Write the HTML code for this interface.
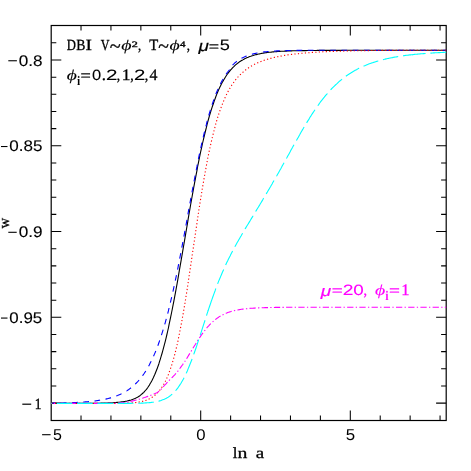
<!DOCTYPE html>
<html><head><meta charset="utf-8"><title>plot</title>
<style>html,body{margin:0;padding:0;background:#fff}svg{display:block;will-change:transform}</style></head>
<body><svg text-rendering="geometricPrecision" width="471" height="471" viewBox="0 0 471 471">
<rect x="0" y="0" width="471" height="471" fill="#fff"/>
<g stroke="#000" stroke-width="1.20" fill="none" stroke-linecap="square">
<rect x="51.20" y="25.50" width="395.00" height="395.00"/>
</g>
<g stroke="#000" stroke-width="1.05" fill="none">
<path d="M81.02,420.50v-5.10 M81.02,25.50v5.10"/>
<path d="M110.94,420.50v-5.10 M110.94,25.50v5.10"/>
<path d="M140.86,420.50v-5.10 M140.86,25.50v5.10"/>
<path d="M170.78,420.50v-5.10 M170.78,25.50v5.10"/>
<path d="M200.70,420.50v-10.10 M200.70,25.50v10.10"/>
<path d="M230.62,420.50v-5.10 M230.62,25.50v5.10"/>
<path d="M260.54,420.50v-5.10 M260.54,25.50v5.10"/>
<path d="M290.46,420.50v-5.10 M290.46,25.50v5.10"/>
<path d="M320.38,420.50v-5.10 M320.38,25.50v5.10"/>
<path d="M350.30,420.50v-10.10 M350.30,25.50v10.10"/>
<path d="M380.22,420.50v-5.10 M380.22,25.50v5.10"/>
<path d="M410.14,420.50v-5.10 M410.14,25.50v5.10"/>
<path d="M440.06,420.50v-5.10 M440.06,25.50v5.10"/>
<path d="M51.20,403.10h10.10 M446.20,403.10h-10.10"/>
<path d="M51.20,385.94h5.10 M446.20,385.94h-5.10"/>
<path d="M51.20,368.79h5.10 M446.20,368.79h-5.10"/>
<path d="M51.20,351.63h5.10 M446.20,351.63h-5.10"/>
<path d="M51.20,334.48h5.10 M446.20,334.48h-5.10"/>
<path d="M51.20,317.32h10.10 M446.20,317.32h-10.10"/>
<path d="M51.20,300.17h5.10 M446.20,300.17h-5.10"/>
<path d="M51.20,283.01h5.10 M446.20,283.01h-5.10"/>
<path d="M51.20,265.86h5.10 M446.20,265.86h-5.10"/>
<path d="M51.20,248.70h5.10 M446.20,248.70h-5.10"/>
<path d="M51.20,231.55h10.10 M446.20,231.55h-10.10"/>
<path d="M51.20,214.39h5.10 M446.20,214.39h-5.10"/>
<path d="M51.20,197.24h5.10 M446.20,197.24h-5.10"/>
<path d="M51.20,180.08h5.10 M446.20,180.08h-5.10"/>
<path d="M51.20,162.93h5.10 M446.20,162.93h-5.10"/>
<path d="M51.20,145.77h10.10 M446.20,145.77h-10.10"/>
<path d="M51.20,128.62h5.10 M446.20,128.62h-5.10"/>
<path d="M51.20,111.46h5.10 M446.20,111.46h-5.10"/>
<path d="M51.20,94.31h5.10 M446.20,94.31h-5.10"/>
<path d="M51.20,77.16h5.10 M446.20,77.16h-5.10"/>
<path d="M51.20,60.00h10.10 M446.20,60.00h-10.10"/>
<path d="M51.20,42.84h5.10 M446.20,42.84h-5.10"/>
</g>
<g fill="none" stroke-width="1.10" stroke-linejoin="round">
<path d="M51.2,403.4 L52.0,403.4 L52.8,403.4 L53.6,403.4 L54.4,403.4 L55.2,403.4 L55.9,403.4 L56.7,403.4 L57.5,403.4 L58.3,403.4 L59.1,403.4 L59.9,403.4 L60.7,403.4 L61.5,403.4 L62.3,403.4 L63.1,403.4 L63.9,403.4 L64.7,403.4 L65.4,403.4 L66.2,403.4 L67.0,403.4 L67.8,403.4 L68.6,403.4 L69.4,403.4 L70.2,403.4 L71.0,403.4 L71.8,403.4 L72.6,403.4 L73.4,403.4 L74.2,403.4 L74.9,403.4 L75.7,403.4 L76.5,403.4 L77.3,403.4 L78.1,403.4 L78.9,403.4 L79.7,403.4 L80.5,403.4 L81.3,403.4 L82.1,403.4 L82.9,403.4 L83.7,403.4 L84.4,403.3 L85.2,403.3 L86.0,403.3 L86.8,403.3 L87.6,403.3 L88.4,403.3 L89.2,403.3 L90.0,403.3 L90.8,403.3 L91.6,403.3 L92.4,403.3 L93.2,403.3 L93.9,403.3 L94.7,403.2 L95.5,403.2 L96.3,403.2 L97.1,403.2 L97.9,403.2 L98.7,403.2 L99.5,403.2 L100.3,403.2 L101.1,403.1 L101.9,403.1 L102.7,403.1 L103.4,403.1 L104.2,403.1 L105.0,403.0 L105.8,403.0 L106.6,403.0 L107.4,403.0 L108.2,402.9 L109.0,402.9 L109.8,402.9 L110.6,402.8 L111.4,402.8 L112.2,402.7 L112.9,402.7 L113.7,402.7 L114.5,402.6 L115.3,402.5 L116.1,402.5 L116.9,402.4 L117.7,402.4 L118.5,402.3 L119.3,402.2 L120.1,402.1 L120.9,402.0 L121.7,401.9 L122.4,401.8 L123.2,401.7 L124.0,401.6 L124.8,401.5 L125.6,401.3 L126.4,401.2 L127.2,401.0 L128.0,400.8 L128.8,400.6 L129.6,400.4 L130.4,400.2 L131.1,400.0 L131.9,399.7 L132.7,399.4 L133.5,399.1 L134.3,398.8 L135.1,398.4 L135.9,398.1 L136.7,397.6 L137.5,397.2 L138.3,396.7 L139.1,396.2 L139.9,395.7 L140.6,395.1 L141.4,394.4 L142.2,393.8 L143.0,393.0 L143.8,392.3 L144.6,391.4 L145.4,390.5 L146.2,389.6 L147.0,388.6 L147.8,387.5 L148.6,386.3 L149.4,385.1 L150.1,383.8 L150.9,382.4 L151.7,381.0 L152.5,379.4 L153.3,377.8 L154.1,376.1 L154.9,374.3 L155.7,372.3 L156.5,370.3 L157.3,368.2 L158.1,366.0 L158.9,363.7 L159.6,361.3 L160.4,358.8 L161.2,356.2 L162.0,353.5 L162.8,350.7 L163.6,347.7 L164.4,344.7 L165.2,341.6 L166.0,338.3 L166.8,335.0 L167.6,331.5 L168.4,328.0 L169.1,324.4 L169.9,320.7 L170.7,316.9 L171.5,313.0 L172.3,309.0 L173.1,304.9 L173.9,300.8 L174.7,296.6 L175.5,292.4 L176.3,288.0 L177.1,283.7 L177.9,279.2 L178.6,274.8 L179.4,270.2 L180.2,265.7 L181.0,261.1 L181.8,256.5 L182.6,251.8 L183.4,247.2 L184.2,242.5 L185.0,237.9 L185.8,233.2 L186.6,228.5 L187.4,223.9 L188.1,219.3 L188.9,214.7 L189.7,210.1 L190.5,205.5 L191.3,201.0 L192.1,196.5 L192.9,192.1 L193.7,187.7 L194.5,183.4 L195.3,179.1 L196.1,174.9 L196.9,170.8 L197.6,166.7 L198.4,162.8 L199.2,158.8 L200.0,155.0 L200.8,151.2 L201.6,147.6 L202.4,144.0 L203.2,140.5 L204.0,137.1 L204.8,133.8 L205.6,130.5 L206.4,127.4 L207.1,124.3 L207.9,121.4 L208.7,118.5 L209.5,115.7 L210.3,113.0 L211.1,110.4 L211.9,107.9 L212.7,105.5 L213.5,103.2 L214.3,100.9 L215.1,98.7 L215.8,96.7 L216.6,94.6 L217.4,92.7 L218.2,90.8 L219.0,89.1 L219.8,87.3 L220.6,85.7 L221.4,84.1 L222.2,82.6 L223.0,81.2 L223.8,79.8 L224.6,78.4 L225.3,77.2 L226.1,76.0 L226.9,74.8 L227.7,73.7 L228.5,72.6 L229.3,71.6 L230.1,70.6 L230.9,69.7 L231.7,68.8 L232.5,67.9 L233.3,67.1 L234.1,66.4 L234.8,65.6 L235.6,64.9 L236.4,64.2 L237.2,63.6 L238.0,63.0 L238.8,62.4 L239.6,61.8 L240.4,61.3 L241.2,60.8 L242.0,60.3 L242.8,59.9 L243.6,59.4 L244.3,59.0 L245.1,58.6 L245.9,58.2 L246.7,57.8 L247.5,57.5 L248.3,57.2 L249.1,56.8 L249.9,56.5 L250.7,56.3 L251.5,56.0 L252.3,55.7 L253.1,55.5 L253.8,55.2 L254.6,55.0 L255.4,54.8 L256.2,54.6 L257.0,54.4 L257.8,54.2 L258.6,54.0 L259.4,53.9 L260.2,53.7 L261.0,53.5 L261.8,53.4 L262.6,53.3 L263.3,53.1 L264.1,53.0 L264.9,52.9 L265.7,52.8 L266.5,52.6 L267.3,52.5 L268.1,52.4 L268.9,52.3 L269.7,52.3 L270.5,52.2 L271.3,52.1 L272.1,52.0 L272.8,51.9 L273.6,51.9 L274.4,51.8 L275.2,51.7 L276.0,51.7 L276.8,51.6 L277.6,51.5 L278.4,51.5 L279.2,51.4 L280.0,51.4 L280.8,51.3 L281.6,51.3 L282.3,51.2 L283.1,51.2 L283.9,51.2 L284.7,51.1 L285.5,51.1 L286.3,51.1 L287.1,51.0 L287.9,51.0 L288.7,51.0 L289.5,50.9 L290.3,50.9 L291.0,50.9 L291.8,50.9 L292.6,50.8 L293.4,50.8 L294.2,50.8 L295.0,50.8 L295.8,50.7 L296.6,50.7 L297.4,50.7 L298.2,50.7 L299.0,50.7 L299.8,50.7 L300.5,50.6 L301.3,50.6 L302.1,50.6 L302.9,50.6 L303.7,50.6 L304.5,50.6 L305.3,50.6 L306.1,50.6 L306.9,50.5 L307.7,50.5 L308.5,50.5 L309.3,50.5 L310.0,50.5 L310.8,50.5 L311.6,50.5 L312.4,50.5 L313.2,50.5 L314.0,50.5 L314.8,50.5 L315.6,50.5 L316.4,50.5 L317.2,50.4 L318.0,50.4 L318.8,50.4 L319.5,50.4 L320.3,50.4 L321.1,50.4 L321.9,50.4 L322.7,50.4 L323.5,50.4 L324.3,50.4 L325.1,50.4 L325.9,50.4 L326.7,50.4 L327.5,50.4 L328.3,50.4 L329.0,50.4 L329.8,50.4 L330.6,50.4 L331.4,50.4 L332.2,50.4 L333.0,50.4 L333.8,50.4 L334.6,50.4 L335.4,50.4 L336.2,50.4 L337.0,50.4 L337.8,50.4 L338.5,50.4 L339.3,50.4 L340.1,50.4 L340.9,50.4 L341.7,50.4 L342.5,50.4 L343.3,50.3 L344.1,50.3 L344.9,50.3 L345.7,50.3 L346.5,50.3 L347.3,50.3 L348.0,50.3 L348.8,50.3 L349.6,50.3 L350.4,50.3 L351.2,50.3 L352.0,50.3 L352.8,50.3 L353.6,50.3 L354.4,50.3 L355.2,50.3 L356.0,50.3 L356.8,50.3 L357.5,50.3 L358.3,50.3 L359.1,50.3 L359.9,50.3 L360.7,50.3 L361.5,50.3 L362.3,50.3 L363.1,50.3 L363.9,50.3 L364.7,50.3 L365.5,50.3 L366.3,50.3 L367.0,50.3 L367.8,50.3 L368.6,50.3 L369.4,50.3 L370.2,50.3 L371.0,50.3 L371.8,50.3 L372.6,50.3 L373.4,50.3 L374.2,50.3 L375.0,50.3 L375.7,50.3 L376.5,50.3 L377.3,50.3 L378.1,50.3 L378.9,50.3 L379.7,50.3 L380.5,50.3 L381.3,50.3 L382.1,50.3 L382.9,50.3 L383.7,50.3 L384.5,50.3 L385.2,50.3 L386.0,50.3 L386.8,50.3 L387.6,50.3 L388.4,50.3 L389.2,50.3 L390.0,50.3 L390.8,50.3 L391.6,50.3 L392.4,50.3 L393.2,50.3 L394.0,50.3 L394.7,50.3 L395.5,50.3 L396.3,50.3 L397.1,50.3 L397.9,50.3 L398.7,50.3 L399.5,50.3 L400.3,50.3 L401.1,50.3 L401.9,50.3 L402.7,50.3 L403.5,50.3 L404.2,50.3 L405.0,50.3 L405.8,50.3 L406.6,50.3 L407.4,50.3 L408.2,50.3 L409.0,50.3 L409.8,50.3 L410.6,50.3 L411.4,50.3 L412.2,50.3 L413.0,50.3 L413.7,50.3 L414.5,50.3 L415.3,50.3 L416.1,50.3 L416.9,50.3 L417.7,50.3 L418.5,50.3 L419.3,50.3 L420.1,50.3 L420.9,50.3 L421.7,50.3 L422.5,50.3 L423.2,50.3 L424.0,50.3 L424.8,50.3 L425.6,50.3 L426.4,50.3 L427.2,50.3 L428.0,50.3 L428.8,50.3 L429.6,50.3 L430.4,50.3 L431.2,50.3 L432.0,50.3 L432.7,50.3 L433.5,50.3 L434.3,50.3 L435.1,50.3 L435.9,50.3 L436.7,50.3 L437.5,50.3 L438.3,50.3 L439.1,50.3 L439.9,50.3 L440.7,50.3 L441.5,50.3 L442.2,50.3 L443.0,50.3 L443.8,50.3 L444.6,50.3 L445.4,50.3 L446.2,50.3" stroke="#000"/>
<path d="M51.2,403.2 L52.0,403.2 L52.8,403.2 L53.6,403.1 L54.4,403.1 L55.2,403.1 L55.9,403.1 L56.7,403.1 L57.5,403.1 L58.3,403.1 L59.1,403.0 L59.9,403.0 L60.7,403.0 L61.5,403.0 L62.3,403.0 L63.1,403.0 L63.9,402.9 L64.7,402.9 L65.4,402.9 L66.2,402.9 L67.0,402.8 L67.8,402.8 L68.6,402.8 L69.4,402.8 L70.2,402.7 L71.0,402.7 L71.8,402.7 L72.6,402.6 L73.4,402.6 L74.2,402.6 L74.9,402.5 L75.7,402.5 L76.5,402.5 L77.3,402.4 L78.1,402.4 L78.9,402.3 L79.7,402.3 L80.5,402.2 L81.3,402.2 L82.1,402.1 L82.9,402.1 L83.7,402.0 L84.4,402.0 L85.2,401.9 L86.0,401.8 L86.8,401.8 L87.6,401.7 L88.4,401.6 L89.2,401.6 L90.0,401.5 L90.8,401.4 L91.6,401.3 L92.4,401.2 L93.2,401.1 L93.9,401.1 L94.7,401.0 L95.5,400.9 L96.3,400.7 L97.1,400.6 L97.9,400.5 L98.7,400.4 L99.5,400.3 L100.3,400.1 L101.1,400.0 L101.9,399.9 L102.7,399.7 L103.4,399.6 L104.2,399.4 L105.0,399.2 L105.8,399.1 L106.6,398.9 L107.4,398.7 L108.2,398.5 L109.0,398.3 L109.8,398.1 L110.6,397.9 L111.4,397.7 L112.2,397.4 L112.9,397.2 L113.7,396.9 L114.5,396.6 L115.3,396.4 L116.1,396.1 L116.9,395.8 L117.7,395.5 L118.5,395.1 L119.3,394.8 L120.1,394.4 L120.9,394.1 L121.7,393.7 L122.4,393.3 L123.2,392.9 L124.0,392.5 L124.8,392.0 L125.6,391.5 L126.4,391.1 L127.2,390.6 L128.0,390.0 L128.8,389.5 L129.6,388.9 L130.4,388.3 L131.1,387.7 L131.9,387.1 L132.7,386.4 L133.5,385.7 L134.3,385.0 L135.1,384.3 L135.9,383.5 L136.7,382.7 L137.5,381.9 L138.3,381.0 L139.1,380.1 L139.9,379.2 L140.6,378.2 L141.4,377.2 L142.2,376.2 L143.0,375.1 L143.8,374.0 L144.6,372.8 L145.4,371.6 L146.2,370.3 L147.0,369.0 L147.8,367.7 L148.6,366.3 L149.4,364.8 L150.1,363.3 L150.9,361.7 L151.7,360.1 L152.5,358.5 L153.3,356.7 L154.1,354.9 L154.9,353.1 L155.7,351.2 L156.5,349.2 L157.3,347.1 L158.1,345.0 L158.9,342.8 L159.6,340.6 L160.4,338.3 L161.2,335.9 L162.0,333.4 L162.8,330.8 L163.6,328.2 L164.4,325.5 L165.2,322.8 L166.0,319.9 L166.8,317.0 L167.6,314.0 L168.4,310.9 L169.1,307.7 L169.9,304.5 L170.7,301.2 L171.5,297.8 L172.3,294.3 L173.1,290.8 L173.9,287.2 L174.7,283.5 L175.5,279.7 L176.3,275.9 L177.1,272.0 L177.9,268.1 L178.6,264.1 L179.4,260.1 L180.2,256.0 L181.0,251.8 L181.8,247.6 L182.6,243.4 L183.4,239.2 L184.2,234.9 L185.0,230.6 L185.8,226.2 L186.6,221.9 L187.4,217.6 L188.1,213.2 L188.9,208.9 L189.7,204.5 L190.5,200.2 L191.3,195.9 L192.1,191.6 L192.9,187.4 L193.7,183.2 L194.5,179.0 L195.3,174.9 L196.1,170.9 L196.9,166.9 L197.6,162.9 L198.4,159.0 L199.2,155.2 L200.0,151.5 L200.8,147.8 L201.6,144.2 L202.4,140.7 L203.2,137.3 L204.0,133.9 L204.8,130.7 L205.6,127.5 L206.4,124.4 L207.1,121.4 L207.9,118.5 L208.7,115.7 L209.5,112.9 L210.3,110.3 L211.1,107.7 L211.9,105.3 L212.7,102.9 L213.5,100.6 L214.3,98.4 L215.1,96.3 L215.8,94.2 L216.6,92.3 L217.4,90.4 L218.2,88.6 L219.0,86.8 L219.8,85.2 L220.6,83.6 L221.4,82.0 L222.2,80.6 L223.0,79.2 L223.8,77.8 L224.6,76.5 L225.3,75.3 L226.1,74.2 L226.9,73.0 L227.7,72.0 L228.5,71.0 L229.3,70.0 L230.1,69.0 L230.9,68.0 L231.7,66.6 L232.5,65.2 L233.3,64.3 L234.1,63.6 L234.8,62.9 L235.6,62.3 L236.4,61.6 L237.2,61.1 L238.0,60.5 L238.8,60.0 L239.6,59.5 L240.4,59.0 L241.2,58.5 L242.0,58.1 L242.8,57.7 L243.6,57.3 L244.3,56.9 L245.1,56.6 L245.9,56.2 L246.7,55.9 L247.5,55.6 L248.3,55.3 L249.1,55.1 L249.9,54.8 L250.7,54.6 L251.5,54.3 L252.3,54.1 L253.1,53.9 L253.8,53.7 L254.6,53.5 L255.4,53.4 L256.2,53.2 L257.0,53.0 L257.8,52.9 L258.6,52.7 L259.4,52.6 L260.2,52.5 L261.0,52.4 L261.8,52.3 L262.6,52.1 L263.3,52.0 L264.1,51.9 L264.9,51.9 L265.7,51.8 L266.5,51.7 L267.3,51.6 L268.1,51.5 L268.9,51.5 L269.7,51.4 L270.5,51.3 L271.3,51.3 L272.1,51.2 L272.8,51.2 L273.6,51.1 L274.4,51.1 L275.2,51.0 L276.0,51.0 L276.8,50.9 L277.6,50.9 L278.4,50.9 L279.2,50.8 L280.0,50.8 L280.8,50.8 L281.6,50.7 L282.3,50.7 L283.1,50.7 L283.9,50.7 L284.7,50.6 L285.5,50.6 L286.3,50.6 L287.1,50.6 L287.9,50.6 L288.7,50.5 L289.5,50.5 L290.3,50.5 L291.0,50.5 L291.8,50.5 L292.6,50.5 L293.4,50.4 L294.2,50.4 L295.0,50.4 L295.8,50.4 L296.6,50.4 L297.4,50.4 L298.2,50.4 L299.0,50.4 L299.8,50.4 L300.5,50.4 L301.3,50.3 L302.1,50.3 L302.9,50.3 L303.7,50.3 L304.5,50.3 L305.3,50.3 L306.1,50.3 L306.9,50.3 L307.7,50.3 L308.5,50.3 L309.3,50.3 L310.0,50.3 L310.8,50.3 L311.6,50.3 L312.4,50.3 L313.2,50.3 L314.0,50.3 L314.8,50.3 L315.6,50.3 L316.4,50.3 L317.2,50.3 L318.0,50.3 L318.8,50.3 L319.5,50.3 L320.3,50.3 L321.1,50.3 L321.9,50.2 L322.7,50.2 L323.5,50.2 L324.3,50.2 L325.1,50.2 L325.9,50.2 L326.7,50.2 L327.5,50.2 L328.3,50.2 L329.0,50.2 L329.8,50.2 L330.6,50.2 L331.4,50.2 L332.2,50.2 L333.0,50.2 L333.8,50.2 L334.6,50.2 L335.4,50.2 L336.2,50.2 L337.0,50.2 L337.8,50.2 L338.5,50.2 L339.3,50.2 L340.1,50.2 L340.9,50.2 L341.7,50.2 L342.5,50.2 L343.3,50.2 L344.1,50.2 L344.9,50.2 L345.7,50.2 L346.5,50.2 L347.3,50.2 L348.0,50.2 L348.8,50.2 L349.6,50.2 L350.4,50.2 L351.2,50.2 L352.0,50.2 L352.8,50.2 L353.6,50.2 L354.4,50.2 L355.2,50.2 L356.0,50.2 L356.8,50.2 L357.5,50.2 L358.3,50.2 L359.1,50.2 L359.9,50.2 L360.7,50.2 L361.5,50.2 L362.3,50.2 L363.1,50.2 L363.9,50.2 L364.7,50.2 L365.5,50.2 L366.3,50.2 L367.0,50.2 L367.8,50.2 L368.6,50.2 L369.4,50.2 L370.2,50.2 L371.0,50.2 L371.8,50.2 L372.6,50.2 L373.4,50.2 L374.2,50.2 L375.0,50.2 L375.7,50.2 L376.5,50.2 L377.3,50.2 L378.1,50.2 L378.9,50.2 L379.7,50.2 L380.5,50.2 L381.3,50.2 L382.1,50.2 L382.9,50.2 L383.7,50.2 L384.5,50.2 L385.2,50.2 L386.0,50.2 L386.8,50.2 L387.6,50.2 L388.4,50.2 L389.2,50.2 L390.0,50.2 L390.8,50.2 L391.6,50.2 L392.4,50.2 L393.2,50.2 L394.0,50.2 L394.7,50.2 L395.5,50.2 L396.3,50.2 L397.1,50.2 L397.9,50.2 L398.7,50.2 L399.5,50.2 L400.3,50.2 L401.1,50.2 L401.9,50.2 L402.7,50.2 L403.5,50.2 L404.2,50.2 L405.0,50.2 L405.8,50.2 L406.6,50.2 L407.4,50.2 L408.2,50.2 L409.0,50.2 L409.8,50.2 L410.6,50.2 L411.4,50.2 L412.2,50.2 L413.0,50.2 L413.7,50.2 L414.5,50.2 L415.3,50.2 L416.1,50.2 L416.9,50.2 L417.7,50.2 L418.5,50.2 L419.3,50.2 L420.1,50.2 L420.9,50.2 L421.7,50.2 L422.5,50.2 L423.2,50.2 L424.0,50.2 L424.8,50.2 L425.6,50.2 L426.4,50.2 L427.2,50.2 L428.0,50.2 L428.8,50.2 L429.6,50.2 L430.4,50.2 L431.2,50.2 L432.0,50.2 L432.7,50.2 L433.5,50.2 L434.3,50.2 L435.1,50.2 L435.9,50.2 L436.7,50.2 L437.5,50.2 L438.3,50.2 L439.1,50.2 L439.9,50.2 L440.7,50.2 L441.5,50.2 L442.2,50.2 L443.0,50.2 L443.8,50.2 L444.6,50.2 L445.4,50.2 L446.2,50.2" stroke="#00f" stroke-dasharray="5.7 5.54" stroke-dashoffset="1.57"/>
<path d="M51.2,403.4 L52.0,403.4 L52.8,403.4 L53.6,403.4 L54.4,403.4 L55.2,403.4 L55.9,403.4 L56.7,403.4 L57.5,403.4 L58.3,403.4 L59.1,403.4 L59.9,403.4 L60.7,403.4 L61.5,403.4 L62.3,403.4 L63.1,403.4 L63.9,403.4 L64.7,403.4 L65.4,403.4 L66.2,403.4 L67.0,403.4 L67.8,403.4 L68.6,403.4 L69.4,403.4 L70.2,403.4 L71.0,403.4 L71.8,403.4 L72.6,403.4 L73.4,403.4 L74.2,403.4 L74.9,403.4 L75.7,403.4 L76.5,403.4 L77.3,403.4 L78.1,403.4 L78.9,403.4 L79.7,403.4 L80.5,403.4 L81.3,403.4 L82.1,403.4 L82.9,403.4 L83.7,403.4 L84.4,403.4 L85.2,403.4 L86.0,403.4 L86.8,403.4 L87.6,403.4 L88.4,403.4 L89.2,403.4 L90.0,403.4 L90.8,403.4 L91.6,403.4 L92.4,403.4 L93.2,403.4 L93.9,403.4 L94.7,403.4 L95.5,403.4 L96.3,403.4 L97.1,403.4 L97.9,403.4 L98.7,403.4 L99.5,403.4 L100.3,403.4 L101.1,403.4 L101.9,403.4 L102.7,403.4 L103.4,403.4 L104.2,403.4 L105.0,403.4 L105.8,403.4 L106.6,403.4 L107.4,403.4 L108.2,403.4 L109.0,403.4 L109.8,403.4 L110.6,403.4 L111.4,403.4 L112.2,403.4 L112.9,403.4 L113.7,403.4 L114.5,403.4 L115.3,403.4 L116.1,403.4 L116.9,403.4 L117.7,403.4 L118.5,403.4 L119.3,403.4 L120.1,403.4 L120.9,403.3 L121.7,403.3 L122.4,403.3 L123.2,403.3 L124.0,403.3 L124.8,403.2 L125.6,403.2 L126.4,403.2 L127.2,403.2 L128.0,403.1 L128.8,403.1 L129.6,403.0 L130.4,403.0 L131.1,402.9 L131.9,402.9 L132.7,402.8 L133.5,402.7 L134.3,402.7 L135.1,402.6 L135.9,402.5 L136.7,402.4 L137.5,402.3 L138.3,402.2 L139.1,402.0 L139.9,401.9 L140.6,401.7 L141.4,401.5 L142.2,401.4 L143.0,401.2 L143.8,400.9 L144.6,400.7 L145.4,400.5 L146.2,400.2 L147.0,399.9 L147.8,399.5 L148.6,399.2 L149.4,398.8 L150.1,398.4 L150.9,398.0 L151.7,397.5 L152.5,397.0 L153.3,396.5 L154.1,395.9 L154.9,395.2 L155.7,394.6 L156.5,393.9 L157.3,393.1 L158.1,392.2 L158.9,391.4 L159.6,390.4 L160.4,389.4 L161.2,388.3 L162.0,387.1 L162.8,385.9 L163.6,384.6 L164.4,383.1 L165.2,381.6 L166.0,380.0 L166.8,378.3 L167.6,376.5 L168.4,374.6 L169.1,372.5 L169.9,370.4 L170.7,368.1 L171.5,365.7 L172.3,363.1 L173.1,360.4 L173.9,357.6 L174.7,354.6 L175.5,351.5 L176.3,348.2 L177.1,344.8 L177.9,341.3 L178.6,337.6 L179.4,333.7 L180.2,329.7 L181.0,325.5 L181.8,321.3 L182.6,316.8 L183.4,312.3 L184.2,307.6 L185.0,302.8 L185.8,297.9 L186.6,292.9 L187.4,287.9 L188.1,282.7 L188.9,277.5 L189.7,272.2 L190.5,266.8 L191.3,261.4 L192.1,256.0 L192.9,250.6 L193.7,245.2 L194.5,239.7 L195.3,234.3 L196.1,229.0 L196.9,223.6 L197.6,218.4 L198.4,213.1 L199.2,208.0 L200.0,202.9 L200.8,197.9 L201.6,193.0 L202.4,188.2 L203.2,183.5 L204.0,178.9 L204.8,174.4 L205.6,170.0 L206.4,165.7 L207.1,161.6 L207.9,157.5 L208.7,153.6 L209.5,149.8 L210.3,146.2 L211.1,142.6 L211.9,139.2 L212.7,135.9 L213.5,132.7 L214.3,129.6 L215.1,126.6 L215.8,123.8 L216.6,121.0 L217.4,118.4 L218.2,115.8 L219.0,113.4 L219.8,111.0 L220.6,108.8 L221.4,106.6 L222.2,104.5 L223.0,102.5 L223.8,100.6 L224.6,98.8 L225.3,97.0 L226.1,95.4 L226.9,93.7 L227.7,92.2 L228.5,90.7 L229.3,89.3 L230.1,87.9 L230.9,86.6 L231.7,85.3 L232.5,84.1 L233.3,83.0 L234.1,81.9 L234.8,80.8 L235.6,79.8 L236.4,78.8 L237.2,77.9 L238.0,77.0 L238.8,76.1 L239.6,75.3 L240.4,74.5 L241.2,73.7 L242.0,73.0 L242.8,72.3 L243.6,71.6 L244.3,70.9 L245.1,70.3 L245.9,69.7 L246.7,69.1 L247.5,68.5 L248.3,68.0 L249.1,67.5 L249.9,67.0 L250.7,66.5 L251.5,66.0 L252.3,65.6 L253.1,65.1 L253.8,64.7 L254.6,64.3 L255.4,63.9 L256.2,63.5 L257.0,63.2 L257.8,62.8 L258.6,62.5 L259.4,62.1 L260.2,61.8 L261.0,61.5 L261.8,61.2 L262.6,60.9 L263.3,60.6 L264.1,60.3 L264.9,60.1 L265.7,59.8 L266.5,59.6 L267.3,59.3 L268.1,59.1 L268.9,58.9 L269.7,58.6 L270.5,58.4 L271.3,58.2 L272.1,58.0 L272.8,57.8 L273.6,57.6 L274.4,57.4 L275.2,57.3 L276.0,57.1 L276.8,56.9 L277.6,56.7 L278.4,56.6 L279.2,56.4 L280.0,56.3 L280.8,56.1 L281.6,56.0 L282.3,55.8 L283.1,55.7 L283.9,55.6 L284.7,55.4 L285.5,55.3 L286.3,55.2 L287.1,55.1 L287.9,54.9 L288.7,54.8 L289.5,54.7 L290.3,54.6 L291.0,54.5 L291.8,54.4 L292.6,54.3 L293.4,54.2 L294.2,54.1 L295.0,54.0 L295.8,53.9 L296.6,53.8 L297.4,53.7 L298.2,53.7 L299.0,53.6 L299.8,53.5 L300.5,53.4 L301.3,53.3 L302.1,53.3 L302.9,53.2 L303.7,53.1 L304.5,53.0 L305.3,53.0 L306.1,52.9 L306.9,52.9 L307.7,52.8 L308.5,52.7 L309.3,52.7 L310.0,52.6 L310.8,52.6 L311.6,52.5 L312.4,52.4 L313.2,52.4 L314.0,52.3 L314.8,52.3 L315.6,52.2 L316.4,52.2 L317.2,52.1 L318.0,52.1 L318.8,52.0 L319.5,52.0 L320.3,52.0 L321.1,51.9 L321.9,51.9 L322.7,51.8 L323.5,51.8 L324.3,51.8 L325.1,51.7 L325.9,51.7 L326.7,51.6 L327.5,51.6 L328.3,51.6 L329.0,51.5 L329.8,51.5 L330.6,51.5 L331.4,51.5 L332.2,51.4 L333.0,51.4 L333.8,51.4 L334.6,51.3 L335.4,51.3 L336.2,51.3 L337.0,51.3 L337.8,51.2 L338.5,51.2 L339.3,51.2 L340.1,51.2 L340.9,51.1 L341.7,51.1 L342.5,51.1 L343.3,51.1 L344.1,51.0 L344.9,51.0 L345.7,51.0 L346.5,51.0 L347.3,51.0 L348.0,50.9 L348.8,50.9 L349.6,50.9 L350.4,50.9 L351.2,50.9 L352.0,50.9 L352.8,50.8 L353.6,50.8 L354.4,50.8 L355.2,50.8 L356.0,50.8 L356.8,50.8 L357.5,50.7 L358.3,50.7 L359.1,50.7 L359.9,50.7 L360.7,50.7 L361.5,50.7 L362.3,50.7 L363.1,50.7 L363.9,50.6 L364.7,50.6 L365.5,50.6 L366.3,50.6 L367.0,50.6 L367.8,50.6 L368.6,50.6 L369.4,50.6 L370.2,50.6 L371.0,50.5 L371.8,50.5 L372.6,50.5 L373.4,50.5 L374.2,50.5 L375.0,50.5 L375.7,50.5 L376.5,50.5 L377.3,50.5 L378.1,50.5 L378.9,50.5 L379.7,50.5 L380.5,50.4 L381.3,50.4 L382.1,50.4 L382.9,50.4 L383.7,50.4 L384.5,50.4 L385.2,50.4 L386.0,50.4 L386.8,50.4 L387.6,50.4 L388.4,50.4 L389.2,50.4 L390.0,50.4 L390.8,50.4 L391.6,50.4 L392.4,50.4 L393.2,50.4 L394.0,50.3 L394.7,50.3 L395.5,50.3 L396.3,50.3 L397.1,50.3 L397.9,50.3 L398.7,50.3 L399.5,50.3 L400.3,50.3 L401.1,50.3 L401.9,50.3 L402.7,50.3 L403.5,50.3 L404.2,50.3 L405.0,50.3 L405.8,50.3 L406.6,50.3 L407.4,50.3 L408.2,50.3 L409.0,50.3 L409.8,50.3 L410.6,50.3 L411.4,50.3 L412.2,50.3 L413.0,50.3 L413.7,50.3 L414.5,50.3 L415.3,50.3 L416.1,50.2 L416.9,50.2 L417.7,50.2 L418.5,50.2 L419.3,50.2 L420.1,50.2 L420.9,50.2 L421.7,50.2 L422.5,50.2 L423.2,50.2 L424.0,50.2 L424.8,50.2 L425.6,50.2 L426.4,50.2 L427.2,50.2 L428.0,50.2 L428.8,50.2 L429.6,50.2 L430.4,50.2 L431.2,50.2 L432.0,50.2 L432.7,50.2 L433.5,50.2 L434.3,50.2 L435.1,50.2 L435.9,50.2 L436.7,50.2 L437.5,50.2 L438.3,50.2 L439.1,50.2 L439.9,50.2 L440.7,50.2 L441.5,50.2 L442.2,50.2 L443.0,50.2 L443.8,50.2 L444.6,50.2 L445.4,50.2 L446.2,50.2" stroke="#f00" stroke-dasharray="1.2 2.3"/>
<path d="M51.2,403.4 L52.0,403.4 L52.8,403.4 L53.6,403.4 L54.4,403.4 L55.2,403.4 L55.9,403.4 L56.7,403.4 L57.5,403.4 L58.3,403.4 L59.1,403.4 L59.9,403.4 L60.7,403.4 L61.5,403.4 L62.3,403.4 L63.1,403.4 L63.9,403.4 L64.7,403.4 L65.4,403.4 L66.2,403.4 L67.0,403.4 L67.8,403.4 L68.6,403.4 L69.4,403.4 L70.2,403.4 L71.0,403.4 L71.8,403.4 L72.6,403.4 L73.4,403.4 L74.2,403.4 L74.9,403.4 L75.7,403.4 L76.5,403.4 L77.3,403.4 L78.1,403.4 L78.9,403.4 L79.7,403.4 L80.5,403.4 L81.3,403.4 L82.1,403.4 L82.9,403.4 L83.7,403.4 L84.4,403.4 L85.2,403.4 L86.0,403.4 L86.8,403.4 L87.6,403.4 L88.4,403.4 L89.2,403.4 L90.0,403.4 L90.8,403.4 L91.6,403.4 L92.4,403.4 L93.2,403.4 L93.9,403.4 L94.7,403.4 L95.5,403.4 L96.3,403.4 L97.1,403.4 L97.9,403.4 L98.7,403.4 L99.5,403.4 L100.3,403.4 L101.1,403.4 L101.9,403.4 L102.7,403.4 L103.4,403.4 L104.2,403.4 L105.0,403.4 L105.8,403.4 L106.6,403.4 L107.4,403.4 L108.2,403.4 L109.0,403.4 L109.8,403.4 L110.6,403.4 L111.4,403.4 L112.2,403.4 L112.9,403.3 L113.7,403.3 L114.5,403.3 L115.3,403.3 L116.1,403.2 L116.9,403.2 L117.7,403.1 L118.5,403.1 L119.3,403.0 L120.1,403.0 L120.9,402.9 L121.7,402.8 L122.4,402.7 L123.2,402.6 L124.0,402.5 L124.8,402.4 L125.6,402.3 L126.4,402.2 L127.2,402.1 L128.0,401.9 L128.8,401.8 L129.6,401.6 L130.4,401.5 L131.1,401.3 L131.9,401.1 L132.7,400.9 L133.5,400.7 L134.3,400.5 L135.1,400.3 L135.9,400.1 L136.7,399.9 L137.5,399.7 L138.3,399.5 L139.1,399.2 L139.9,399.0 L140.6,398.7 L141.4,398.5 L142.2,398.2 L143.0,398.0 L143.8,397.7 L144.6,397.5 L145.4,397.2 L146.2,396.9 L147.0,396.6 L147.8,396.4 L148.6,396.1 L149.4,395.8 L150.1,395.5 L150.9,395.2 L151.7,394.9 L152.5,394.6 L153.3,394.3 L154.1,393.9 L154.9,393.6 L155.7,393.2 L156.5,392.9 L157.3,392.4 L158.1,391.9 L158.9,391.3 L159.6,390.7 L160.4,389.9 L161.2,389.1 L162.0,388.2 L162.8,387.3 L163.6,386.4 L164.4,385.5 L165.2,384.6 L166.0,383.8 L166.8,382.9 L167.6,382.1 L168.4,381.3 L169.1,380.5 L169.9,379.7 L170.7,378.9 L171.5,378.1 L172.3,377.3 L173.1,376.5 L173.9,375.6 L174.7,374.8 L175.5,373.9 L176.3,373.0 L177.1,372.1 L177.9,371.1 L178.6,370.1 L179.4,369.1 L180.2,368.0 L181.0,366.9 L181.8,365.8 L182.6,364.7 L183.4,363.5 L184.2,362.4 L185.0,361.2 L185.8,359.9 L186.6,358.7 L187.4,357.4 L188.1,356.2 L188.9,354.9 L189.7,353.6 L190.5,352.3 L191.3,351.0 L192.1,349.7 L192.9,348.3 L193.7,347.0 L194.5,345.7 L195.3,344.5 L196.1,343.2 L196.9,341.9 L197.6,340.7 L198.4,339.4 L199.2,338.2 L200.0,337.1 L200.8,335.9 L201.6,334.7 L202.4,333.6 L203.2,332.5 L204.0,331.5 L204.8,330.5 L205.6,329.5 L206.4,328.5 L207.1,327.5 L207.9,326.6 L208.7,325.8 L209.5,324.9 L210.3,324.1 L211.1,323.3 L211.9,322.5 L212.7,321.8 L213.5,321.1 L214.3,320.4 L215.1,319.8 L215.8,319.2 L216.6,318.6 L217.4,318.0 L218.2,317.5 L219.0,316.9 L219.8,316.4 L220.6,316.0 L221.4,315.5 L222.2,315.1 L223.0,314.7 L223.8,314.3 L224.6,313.9 L225.3,313.6 L226.1,313.2 L226.9,312.9 L227.7,312.6 L228.5,312.3 L229.3,312.1 L230.1,311.8 L230.9,311.6 L231.7,311.3 L232.5,311.1 L233.3,310.9 L234.1,310.7 L234.8,310.5 L235.6,310.3 L236.4,310.2 L237.2,310.0 L238.0,309.9 L238.8,309.7 L239.6,309.6 L240.4,309.5 L241.2,309.3 L242.0,309.2 L242.8,309.1 L243.6,309.0 L244.3,308.9 L245.1,308.8 L245.9,308.7 L246.7,308.7 L247.5,308.6 L248.3,308.5 L249.1,308.4 L249.9,308.4 L250.7,308.3 L251.5,308.3 L252.3,308.2 L253.1,308.2 L253.8,308.1 L254.6,308.1 L255.4,308.0 L256.2,308.0 L257.0,307.9 L257.8,307.9 L258.6,307.9 L259.4,307.8 L260.2,307.8 L261.0,307.8 L261.8,307.7 L262.6,307.7 L263.3,307.7 L264.1,307.7 L264.9,307.6 L265.7,307.6 L266.5,307.6 L267.3,307.6 L268.1,307.6 L268.9,307.5 L269.7,307.5 L270.5,307.5 L271.3,307.5 L272.1,307.5 L272.8,307.5 L273.6,307.5 L274.4,307.5 L275.2,307.4 L276.0,307.4 L276.8,307.4 L277.6,307.4 L278.4,307.4 L279.2,307.4 L280.0,307.4 L280.8,307.4 L281.6,307.4 L282.3,307.4 L283.1,307.4 L283.9,307.4 L284.7,307.4 L285.5,307.4 L286.3,307.3 L287.1,307.3 L287.9,307.3 L288.7,307.3 L289.5,307.3 L290.3,307.3 L291.0,307.3 L291.8,307.3 L292.6,307.3 L293.4,307.3 L294.2,307.3 L295.0,307.3 L295.8,307.3 L296.6,307.3 L297.4,307.3 L298.2,307.3 L299.0,307.3 L299.8,307.3 L300.5,307.3 L301.3,307.3 L302.1,307.3 L302.9,307.3 L303.7,307.3 L304.5,307.3 L305.3,307.3 L306.1,307.3 L306.9,307.3 L307.7,307.3 L308.5,307.3 L309.3,307.3 L310.0,307.3 L310.8,307.3 L311.6,307.3 L312.4,307.3 L313.2,307.3 L314.0,307.3 L314.8,307.3 L315.6,307.3 L316.4,307.3 L317.2,307.3 L318.0,307.3 L318.8,307.3 L319.5,307.3 L320.3,307.3 L321.1,307.3 L321.9,307.3 L322.7,307.3 L323.5,307.3 L324.3,307.3 L325.1,307.3 L325.9,307.3 L326.7,307.3 L327.5,307.3 L328.3,307.3 L329.0,307.3 L329.8,307.3 L330.6,307.3 L331.4,307.3 L332.2,307.3 L333.0,307.3 L333.8,307.3 L334.6,307.3 L335.4,307.3 L336.2,307.3 L337.0,307.3 L337.8,307.3 L338.5,307.3 L339.3,307.3 L340.1,307.3 L340.9,307.3 L341.7,307.3 L342.5,307.3 L343.3,307.3 L344.1,307.3 L344.9,307.3 L345.7,307.3 L346.5,307.3 L347.3,307.3 L348.0,307.3 L348.8,307.3 L349.6,307.3 L350.4,307.3 L351.2,307.3 L352.0,307.3 L352.8,307.3 L353.6,307.3 L354.4,307.3 L355.2,307.3 L356.0,307.3 L356.8,307.3 L357.5,307.3 L358.3,307.3 L359.1,307.3 L359.9,307.3 L360.7,307.3 L361.5,307.3 L362.3,307.3 L363.1,307.3 L363.9,307.3 L364.7,307.3 L365.5,307.3 L366.3,307.3 L367.0,307.3 L367.8,307.3 L368.6,307.3 L369.4,307.3 L370.2,307.3 L371.0,307.3 L371.8,307.3 L372.6,307.3 L373.4,307.3 L374.2,307.3 L375.0,307.3 L375.7,307.3 L376.5,307.3 L377.3,307.3 L378.1,307.3 L378.9,307.3 L379.7,307.3 L380.5,307.3 L381.3,307.3 L382.1,307.3 L382.9,307.3 L383.7,307.3 L384.5,307.3 L385.2,307.3 L386.0,307.3 L386.8,307.3 L387.6,307.3 L388.4,307.3 L389.2,307.3 L390.0,307.3 L390.8,307.3 L391.6,307.3 L392.4,307.3 L393.2,307.3 L394.0,307.3 L394.7,307.3 L395.5,307.3 L396.3,307.3 L397.1,307.3 L397.9,307.3 L398.7,307.3 L399.5,307.3 L400.3,307.3 L401.1,307.3 L401.9,307.3 L402.7,307.3 L403.5,307.3 L404.2,307.3 L405.0,307.3 L405.8,307.3 L406.6,307.3 L407.4,307.3 L408.2,307.3 L409.0,307.3 L409.8,307.3 L410.6,307.3 L411.4,307.3 L412.2,307.3 L413.0,307.3 L413.7,307.3 L414.5,307.3 L415.3,307.3 L416.1,307.3 L416.9,307.3 L417.7,307.3 L418.5,307.3 L419.3,307.3 L420.1,307.3 L420.9,307.3 L421.7,307.3 L422.5,307.3 L423.2,307.3 L424.0,307.3 L424.8,307.3 L425.6,307.3 L426.4,307.3 L427.2,307.3 L428.0,307.3 L428.8,307.3 L429.6,307.3 L430.4,307.3 L431.2,307.3 L432.0,307.3 L432.7,307.3 L433.5,307.3 L434.3,307.3 L435.1,307.3 L435.9,307.3 L436.7,307.3 L437.5,307.3 L438.3,307.3 L439.1,307.3 L439.9,307.3 L440.7,307.3 L441.5,307.3 L442.2,307.3 L443.0,307.3 L443.8,307.3 L444.6,307.3 L445.4,307.3 L446.2,307.3" stroke="#f0f" stroke-dasharray="6.3 2.3 1.3 2.31" stroke-dashoffset="6.11"/>
<path d="M51.2,403.4 L52.0,403.4 L52.8,403.4 L53.6,403.4 L54.4,403.4 L55.2,403.4 L55.9,403.4 L56.7,403.4 L57.5,403.4 L58.3,403.4 L59.1,403.4 L59.9,403.4 L60.7,403.4 L61.5,403.4 L62.3,403.4 L63.1,403.4 L63.9,403.4 L64.7,403.4 L65.4,403.4 L66.2,403.4 L67.0,403.4 L67.8,403.4 L68.6,403.4 L69.4,403.4 L70.2,403.4 L71.0,403.4 L71.8,403.4 L72.6,403.4 L73.4,403.4 L74.2,403.4 L74.9,403.4 L75.7,403.4 L76.5,403.4 L77.3,403.4 L78.1,403.4 L78.9,403.4 L79.7,403.4 L80.5,403.4 L81.3,403.4 L82.1,403.4 L82.9,403.4 L83.7,403.4 L84.4,403.4 L85.2,403.4 L86.0,403.4 L86.8,403.4 L87.6,403.4 L88.4,403.4 L89.2,403.4 L90.0,403.4 L90.8,403.4 L91.6,403.4 L92.4,403.4 L93.2,403.4 L93.9,403.4 L94.7,403.4 L95.5,403.4 L96.3,403.4 L97.1,403.4 L97.9,403.4 L98.7,403.4 L99.5,403.4 L100.3,403.4 L101.1,403.4 L101.9,403.4 L102.7,403.4 L103.4,403.4 L104.2,403.4 L105.0,403.4 L105.8,403.4 L106.6,403.4 L107.4,403.4 L108.2,403.4 L109.0,403.4 L109.8,403.4 L110.6,403.4 L111.4,403.4 L112.2,403.4 L112.9,403.4 L113.7,403.4 L114.5,403.4 L115.3,403.4 L116.1,403.4 L116.9,403.4 L117.7,403.4 L118.5,403.4 L119.3,403.4 L120.1,403.4 L120.9,403.4 L121.7,403.4 L122.4,403.4 L123.2,403.4 L124.0,403.4 L124.8,403.4 L125.6,403.4 L126.4,403.4 L127.2,403.4 L128.0,403.4 L128.8,403.4 L129.6,403.4 L130.4,403.4 L131.1,403.4 L131.9,403.3 L132.7,403.3 L133.5,403.3 L134.3,403.3 L135.1,403.3 L135.9,403.3 L136.7,403.3 L137.5,403.3 L138.3,403.2 L139.1,403.2 L139.9,403.2 L140.6,403.2 L141.4,403.1 L142.2,403.1 L143.0,403.1 L143.8,403.0 L144.6,403.0 L145.4,402.9 L146.2,402.9 L147.0,402.8 L147.8,402.8 L148.6,402.7 L149.4,402.6 L150.1,402.6 L150.9,402.5 L151.7,402.4 L152.5,402.3 L153.3,402.2 L154.1,402.1 L154.9,401.9 L155.7,401.8 L156.5,401.6 L157.3,401.5 L158.1,401.3 L158.9,401.1 L159.6,400.9 L160.4,400.7 L161.2,400.4 L162.0,400.1 L162.8,399.8 L163.6,399.5 L164.4,399.2 L165.2,398.8 L166.0,398.4 L166.8,398.0 L167.6,397.6 L168.4,397.1 L169.1,396.5 L169.9,396.0 L170.7,395.4 L171.5,394.7 L172.3,394.1 L173.1,393.3 L173.9,392.5 L174.7,391.7 L175.5,390.8 L176.3,389.9 L177.1,388.9 L177.9,387.9 L178.6,386.8 L179.4,385.6 L180.2,384.4 L181.0,383.2 L181.8,381.8 L182.6,380.4 L183.4,379.0 L184.2,377.4 L185.0,375.8 L185.8,374.2 L186.6,372.5 L187.4,370.7 L188.1,368.9 L188.9,367.0 L189.7,365.0 L190.5,363.0 L191.3,361.0 L192.1,358.9 L192.9,356.7 L193.7,354.5 L194.5,352.3 L195.3,350.0 L196.1,347.7 L196.9,345.3 L197.6,343.0 L198.4,340.6 L199.2,338.2 L200.0,335.7 L200.8,333.3 L201.6,330.8 L202.4,328.3 L203.2,325.9 L204.0,323.4 L204.8,321.0 L205.6,318.5 L206.4,316.1 L207.1,313.7 L207.9,311.3 L208.2,310.4" stroke="#0ff" stroke-dasharray="15.6 4.8" stroke-dashoffset="14.93"/>
<path d="M208.0,310.9 L208.7,308.9 L209.5,306.5 L210.3,304.2 L211.1,301.8 L211.9,299.6 L212.7,297.3 L213.5,295.1 L214.3,292.9 L215.1,290.7 L215.8,288.6 L215.9,288.4" stroke="#0ff"/>
<path d="M215.9,288.4 L216.6,286.5 L217.4,284.4 L218.2,282.4 L219.0,280.4 L219.8,278.5 L220.6,276.6 L221.4,274.7 L222.2,272.8 L223.0,271.0 L223.8,269.2 L224.6,267.4 L225.3,265.7 L226.1,264.0 L226.9,262.3 L227.7,260.7 L228.5,259.0 L229.3,257.4 L230.1,255.9 L230.9,254.3 L231.7,252.8 L232.5,251.3 L233.3,249.8 L234.1,248.3 L234.8,246.8 L235.6,245.4 L236.4,244.0 L237.2,242.6 L238.0,241.2 L238.8,239.8 L239.6,238.4 L240.4,237.0 L241.2,235.7 L242.0,234.3 L242.8,233.0 L243.6,231.6 L244.3,230.3 L245.1,228.9 L245.9,227.6 L246.7,226.3 L247.5,225.0 L248.3,223.7 L249.1,222.4 L249.9,221.1 L250.7,219.7 L251.5,218.4 L252.3,217.1 L253.1,215.8 L253.8,214.5 L254.6,213.2 L255.4,211.9 L256.2,210.6 L257.0,209.3 L257.8,208.0 L258.6,206.7 L259.4,205.4 L260.2,204.0 L261.0,202.7 L261.8,201.4 L262.6,200.1 L263.3,198.7 L264.1,197.4 L264.9,196.1 L265.7,194.8 L266.5,193.4 L267.3,192.1 L268.1,190.7 L268.9,189.4 L269.7,188.0 L270.5,186.7 L271.3,185.3 L272.1,183.9 L272.8,182.6 L273.6,181.2 L274.4,179.8 L275.2,178.4 L276.0,177.0 L276.8,175.7 L277.6,174.3 L278.4,172.9 L279.2,171.5 L280.0,170.1 L280.8,168.7 L281.6,167.2 L282.3,165.8 L283.1,164.4 L283.9,163.0 L284.7,161.6 L285.5,160.1 L286.3,158.7 L287.1,157.3 L287.9,155.8 L288.7,154.4 L289.5,153.0 L290.3,151.6 L291.0,150.1 L291.8,148.7 L292.6,147.3 L293.4,145.8 L294.2,144.4 L295.0,143.0 L295.8,141.6 L296.6,140.2 L297.4,138.8 L298.2,137.4 L299.0,136.0 L299.8,134.6 L300.5,133.2 L301.3,131.8 L302.1,130.4 L302.9,129.1 L303.7,127.7 L304.5,126.4 L305.3,125.1 L306.1,123.7 L306.9,122.4 L307.7,121.1 L308.5,119.9 L309.3,118.6 L310.0,117.3 L310.8,116.1 L311.6,114.8 L312.4,113.6 L313.2,112.4 L314.0,111.2 L314.8,110.0 L315.6,108.9 L316.4,107.7 L317.2,106.6 L318.0,105.5 L318.8,104.4 L319.5,103.3 L320.3,102.2 L321.1,101.2 L321.9,100.2 L322.7,99.1 L323.5,98.1 L324.3,97.2 L325.1,96.2 L325.9,95.2 L326.7,94.3 L327.5,93.4 L328.3,92.5 L329.0,91.6 L329.8,90.7 L330.6,89.8 L331.4,89.0 L332.2,88.2 L333.0,87.4 L333.8,86.6 L334.6,85.8 L335.4,85.0 L336.2,84.3 L337.0,83.6 L337.8,82.8 L338.5,82.1 L339.3,81.4 L340.1,80.8 L340.9,80.1 L341.7,79.5 L342.5,78.8 L343.3,78.2 L344.1,77.6 L344.9,77.0 L345.7,76.4 L346.5,75.8 L347.3,75.3 L348.0,74.7 L348.8,74.2 L349.6,73.7 L350.4,73.2 L351.2,72.7 L352.0,72.2 L352.8,71.7 L353.6,71.2 L354.4,70.8 L355.2,70.3 L356.0,69.9 L356.8,69.5 L357.5,69.1 L358.3,68.6 L359.1,68.2 L359.9,67.9 L360.7,67.5 L361.5,67.1 L362.3,66.7 L363.1,66.4 L363.9,66.0 L364.7,65.7 L365.5,65.4 L366.3,65.0 L367.0,64.7 L367.8,64.4 L368.6,64.1 L369.4,63.8 L370.2,63.5 L371.0,63.2 L371.8,62.9 L372.6,62.7 L373.4,62.4 L374.2,62.2 L375.0,61.9 L375.7,61.7 L376.5,61.4 L377.3,61.2 L378.1,60.9 L378.9,60.7 L379.7,60.5 L380.5,60.3 L381.3,60.1 L382.1,59.9 L382.9,59.7 L383.7,59.5 L384.5,59.3 L385.2,59.1 L386.0,58.9 L386.8,58.7 L387.6,58.5 L388.4,58.4 L389.2,58.2 L390.0,58.0 L390.8,57.9 L391.6,57.7 L392.4,57.6 L393.2,57.4 L394.0,57.3 L394.7,57.1 L395.5,57.0 L396.3,56.9 L397.1,56.7 L397.9,56.6 L398.7,56.5 L399.5,56.3 L400.3,56.2 L401.1,56.1 L401.9,56.0 L402.7,55.9 L403.5,55.8 L404.2,55.6 L405.0,55.5 L405.8,55.4 L406.6,55.3 L407.4,55.2 L408.2,55.1 L409.0,55.0 L409.8,54.9 L410.6,54.9 L411.4,54.8 L412.2,54.7 L412.8,54.6" stroke="#0ff" stroke-dasharray="15.6 4.86" stroke-dashoffset="15.6"/>
<path d="M412.3,54.7 L413.0,54.6 L413.7,54.5 L414.5,54.4 L415.3,54.3 L416.1,54.3 L416.9,54.2 L417.7,54.1 L418.5,54.0 L419.3,54.0 L420.1,53.9 L420.9,53.8 L421.7,53.8 L422.5,53.7 L423.2,53.6 L424.0,53.6 L424.8,53.5 L425.6,53.5 L425.6,53.5" stroke="#0ff"/>
<path d="M430.4,53.1 L431.2,53.1 L432.0,53.0 L432.7,53.0 L433.5,52.9 L434.3,52.9 L435.1,52.8 L435.9,52.8 L436.7,52.7 L437.5,52.7 L438.3,52.6 L439.1,52.6 L439.9,52.6 L440.7,52.5 L441.5,52.5 L442.2,52.5 L443.0,52.4 L443.8,52.4 L444.6,52.3 L445.4,52.3 L446.2,52.3" stroke="#0ff"/>
</g>
<text transform="translate(18.73,65.50) scale(1.113,1)" font-family="'Liberation Sans', sans-serif" font-size="15.40" stroke="#000" stroke-width="0.12">0.8</text>
<path d="M8.30,60.75H16.90" stroke="#000" stroke-width="1.10" fill="none"/>
<text transform="translate(9.33,151.28) scale(1.107,1)" font-family="'Liberation Sans', sans-serif" font-size="15.40" stroke="#000" stroke-width="0.12">0.85</text>
<path d="M1.00,146.52H7.50" stroke="#000" stroke-width="1.10" fill="none"/>
<text transform="translate(18.73,237.05) scale(1.116,1)" font-family="'Liberation Sans', sans-serif" font-size="15.40" stroke="#000" stroke-width="0.12">0.9</text>
<path d="M8.30,232.30H16.70" stroke="#000" stroke-width="1.10" fill="none"/>
<text transform="translate(9.34,322.83) scale(1.100,1)" font-family="'Liberation Sans', sans-serif" font-size="15.40" stroke="#000" stroke-width="0.12">0.95</text>
<path d="M1.00,318.07H7.50" stroke="#000" stroke-width="1.10" fill="none"/>
<text transform="translate(34.73,409.00) scale(0.1335,0.1575)" font-family="'Liberation Serif', serif" font-style="normal" font-weight="normal" font-size="100" fill="#000" stroke="#000" stroke-width="2.41">1</text>
<path d="M22.30,404.20H31.20" stroke="#000" stroke-width="1.20" fill="none"/>
<text transform="translate(52.96,439.65) scale(1.017,1.000)" font-family="'Liberation Sans', serif" font-style="normal" font-size="15.76" fill="#000">5</text>
<path d="M42.10,434.70H50.60" stroke="#000" stroke-width="1.10" fill="none"/>
<text transform="translate(196.15,439.65) scale(1.077,1.000)" font-family="'Liberation Sans', serif" font-style="normal" font-size="15.54" fill="#000">0</text>
<text transform="translate(345.72,439.65) scale(1.070,1.000)" font-family="'Liberation Sans', serif" font-style="normal" font-size="15.76" fill="#000">5</text>
<text transform="translate(232.66,457.80) scale(1.085,1.000)" font-family="'Liberation Serif', serif" font-style="normal" font-size="15.50" fill="#000" stroke="#000" stroke-width="0.28">l</text>
<text transform="translate(237.55,457.80) scale(1.271,1.000)" font-family="'Liberation Serif', serif" font-style="normal" font-size="15.50" fill="#000" stroke="#000" stroke-width="0.28">n</text>
<text transform="translate(255.63,457.80) scale(1.225,1.000)" font-family="'Liberation Serif', serif" font-style="normal" font-size="15.50" fill="#000" stroke="#000" stroke-width="0.28">a</text>
<g transform="translate(9.1,228.5) rotate(-90)"><text transform="translate(-0.01,0.00) scale(0.967,1.000)" font-family="'Liberation Serif', serif" font-style="normal" font-size="15.30" fill="#000" stroke="#000" stroke-width="0.28">w</text></g>
<text transform="translate(66.73,50.07) scale(0.1270,0.1553)" font-family="'Liberation Serif', serif" font-style="normal" font-weight="normal" font-size="100" fill="#000" stroke="#000" stroke-width="2.12">D</text>
<text transform="translate(76.20,50.05) scale(0.1374,0.1551)" font-family="'Liberation Serif', serif" font-style="normal" font-weight="normal" font-size="100" fill="#000" stroke="#000" stroke-width="2.05">B</text>
<text transform="translate(85.60,50.10) scale(0.1949,0.1558)" font-family="'Liberation Serif', serif" font-style="normal" font-weight="normal" font-size="100" fill="#000" stroke="#000" stroke-width="1.71">I</text>
<text transform="translate(100.76,49.87) scale(0.1215,0.1523)" font-family="'Liberation Serif', serif" font-style="normal" font-weight="normal" font-size="100" fill="#000" stroke="#000" stroke-width="2.19">V</text>
<text transform="translate(109.74,53.05) scale(0.2023,0.2143)" font-family="'Liberation Serif', serif" font-style="normal" font-weight="normal" font-size="100" fill="#000" stroke="#000" stroke-width="1.44">~</text>
<text transform="translate(121.34,50.23) scale(0.1995,0.1489)" font-family="'Liberation Serif', serif" font-style="italic" font-weight="normal" font-size="100" fill="#000" stroke="#000" stroke-width="0.57">ϕ</text>
<text transform="translate(131.76,47.00) scale(0.1222,0.0816)" font-family="'Liberation Serif', serif" font-style="normal" font-weight="normal" font-size="100" fill="#000" stroke="#000" stroke-width="3.93">2</text>
<text transform="translate(138.11,50.00) scale(0.1276,0.1557)" font-family="'Liberation Serif', serif" font-style="normal" font-weight="normal" font-size="100" fill="#000" stroke="#000" stroke-width="2.12">,</text>
<text transform="translate(149.13,50.10) scale(0.1475,0.1558)" font-family="'Liberation Serif', serif" font-style="normal" font-weight="normal" font-size="100" fill="#000" stroke="#000" stroke-width="1.98">T</text>
<text transform="translate(158.15,53.05) scale(0.1961,0.2143)" font-family="'Liberation Serif', serif" font-style="normal" font-weight="normal" font-size="100" fill="#000" stroke="#000" stroke-width="1.46">~</text>
<text transform="translate(169.44,50.23) scale(0.1995,0.1489)" font-family="'Liberation Serif', serif" font-style="italic" font-weight="normal" font-size="100" fill="#000" stroke="#000" stroke-width="0.57">ϕ</text>
<text transform="translate(179.89,47.00) scale(0.1097,0.0836)" font-family="'Liberation Serif', serif" font-style="normal" font-weight="normal" font-size="100" fill="#000" stroke="#000" stroke-width="4.14">4</text>
<text transform="translate(186.71,50.00) scale(0.1276,0.1557)" font-family="'Liberation Serif', serif" font-style="normal" font-weight="normal" font-size="100" fill="#000" stroke="#000" stroke-width="2.12">,</text>
<text transform="translate(198.40,50.77) scale(0.1900,0.1527)" font-family="'Liberation Sans', serif" font-style="italic" font-weight="normal" font-size="100" fill="#000" stroke="#000" stroke-width="1.17">μ</text>
<text transform="translate(208.79,51.50) scale(0.1827,0.1640)" font-family="'Liberation Serif', serif" font-style="normal" font-weight="normal" font-size="100" fill="#000" stroke="#000" stroke-width="1.73">=</text>
<text transform="translate(219.87,50.15) scale(0.1814,0.1505)" font-family="'Liberation Sans', serif" font-style="normal" font-weight="normal" font-size="100" fill="#000" stroke="#000" stroke-width="0.60">5</text>
<text transform="translate(66.65,79.91) scale(0.1952,0.1500)" font-family="'Liberation Serif', serif" font-style="italic" font-weight="normal" font-size="100" fill="#000" stroke="#000" stroke-width="0.58">ϕ</text>
<text transform="translate(77.18,84.60) scale(0.0995,0.1312)" font-family="'Liberation Serif', serif" font-style="normal" font-weight="bold" font-size="100" fill="#000" stroke="#000" stroke-width="0.87">i</text>
<text transform="translate(80.49,81.20) scale(0.1827,0.1640)" font-family="'Liberation Serif', serif" font-style="normal" font-weight="normal" font-size="100" fill="#000" stroke="#000" stroke-width="1.73">=</text>
<text transform="translate(91.95,79.86) scale(0.1653,0.1483)" font-family="'Liberation Sans', serif" font-style="normal" font-weight="normal" font-size="100" fill="#000" stroke="#000" stroke-width="0.64">0</text>
<text transform="translate(101.68,79.75) scale(0.1693,0.1777)" font-family="'Liberation Serif', serif" font-style="normal" font-weight="normal" font-size="100" fill="#000" stroke="#000" stroke-width="1.73">.</text>
<text transform="translate(105.54,80.00) scale(0.2070,0.1570)" font-family="'Liberation Mono', serif" font-style="normal" font-weight="normal" font-size="100" fill="#000" stroke="#000" stroke-width="0.27">2</text>
<text transform="translate(116.79,79.80) scale(0.1343,0.1557)" font-family="'Liberation Serif', serif" font-style="normal" font-weight="normal" font-size="100" fill="#000" stroke="#000" stroke-width="2.07">,</text>
<text transform="translate(121.65,80.00) scale(0.1761,0.1591)" font-family="'Liberation Serif', serif" font-style="normal" font-weight="normal" font-size="100" fill="#000" stroke="#000" stroke-width="1.79">1</text>
<text transform="translate(130.16,79.80) scale(0.1410,0.1557)" font-family="'Liberation Serif', serif" font-style="normal" font-weight="normal" font-size="100" fill="#000" stroke="#000" stroke-width="2.02">,</text>
<text transform="translate(133.56,80.00) scale(0.2048,0.1570)" font-family="'Liberation Mono', serif" font-style="normal" font-weight="normal" font-size="100" fill="#000" stroke="#000" stroke-width="0.28">2</text>
<text transform="translate(144.86,79.80) scale(0.1410,0.1557)" font-family="'Liberation Serif', serif" font-style="normal" font-weight="normal" font-size="100" fill="#000" stroke="#000" stroke-width="2.02">,</text>
<text transform="translate(149.49,80.00) scale(0.1592,0.1595)" font-family="'Liberation Serif', serif" font-style="normal" font-weight="normal" font-size="100" fill="#000" stroke="#000" stroke-width="1.88">4</text>
<text transform="translate(320.80,295.52) scale(0.1900,0.1500)" font-family="'Liberation Sans', serif" font-style="italic" font-weight="normal" font-size="100" fill="#f0f" stroke="#f0f" stroke-width="1.18">μ</text>
<text transform="translate(331.84,296.30) scale(0.1934,0.1640)" font-family="'Liberation Serif', serif" font-style="normal" font-weight="normal" font-size="100" fill="#f0f" stroke="#f0f" stroke-width="1.68">=</text>
<text transform="translate(342.34,295.00) scale(0.1939,0.1570)" font-family="'Liberation Mono', serif" font-style="normal" font-weight="normal" font-size="100" fill="#f0f" stroke="#f0f" stroke-width="0.29">2</text>
<text transform="translate(353.26,294.86) scale(0.1883,0.1483)" font-family="'Liberation Sans', serif" font-style="normal" font-weight="normal" font-size="100" fill="#f0f" stroke="#f0f" stroke-width="0.59">0</text>
<text transform="translate(363.46,294.80) scale(0.1410,0.1557)" font-family="'Liberation Serif', serif" font-style="normal" font-weight="normal" font-size="100" fill="#f0f" stroke="#f0f" stroke-width="2.02">,</text>
<text transform="translate(375.05,295.01) scale(0.1974,0.1500)" font-family="'Liberation Serif', serif" font-style="italic" font-weight="normal" font-size="100" fill="#f0f" stroke="#f0f" stroke-width="0.58">ϕ</text>
<text transform="translate(385.47,299.50) scale(0.1036,0.1326)" font-family="'Liberation Serif', serif" font-style="normal" font-weight="bold" font-size="100" fill="#f0f" stroke="#f0f" stroke-width="0.85">i</text>
<text transform="translate(388.94,296.30) scale(0.1934,0.1640)" font-family="'Liberation Serif', serif" font-style="normal" font-weight="normal" font-size="100" fill="#f0f" stroke="#f0f" stroke-width="1.68">=</text>
<text transform="translate(401.35,295.00) scale(0.1647,0.1591)" font-family="'Liberation Serif', serif" font-style="normal" font-weight="normal" font-size="100" fill="#f0f" stroke="#f0f" stroke-width="1.85">1</text>
</svg></body></html>
